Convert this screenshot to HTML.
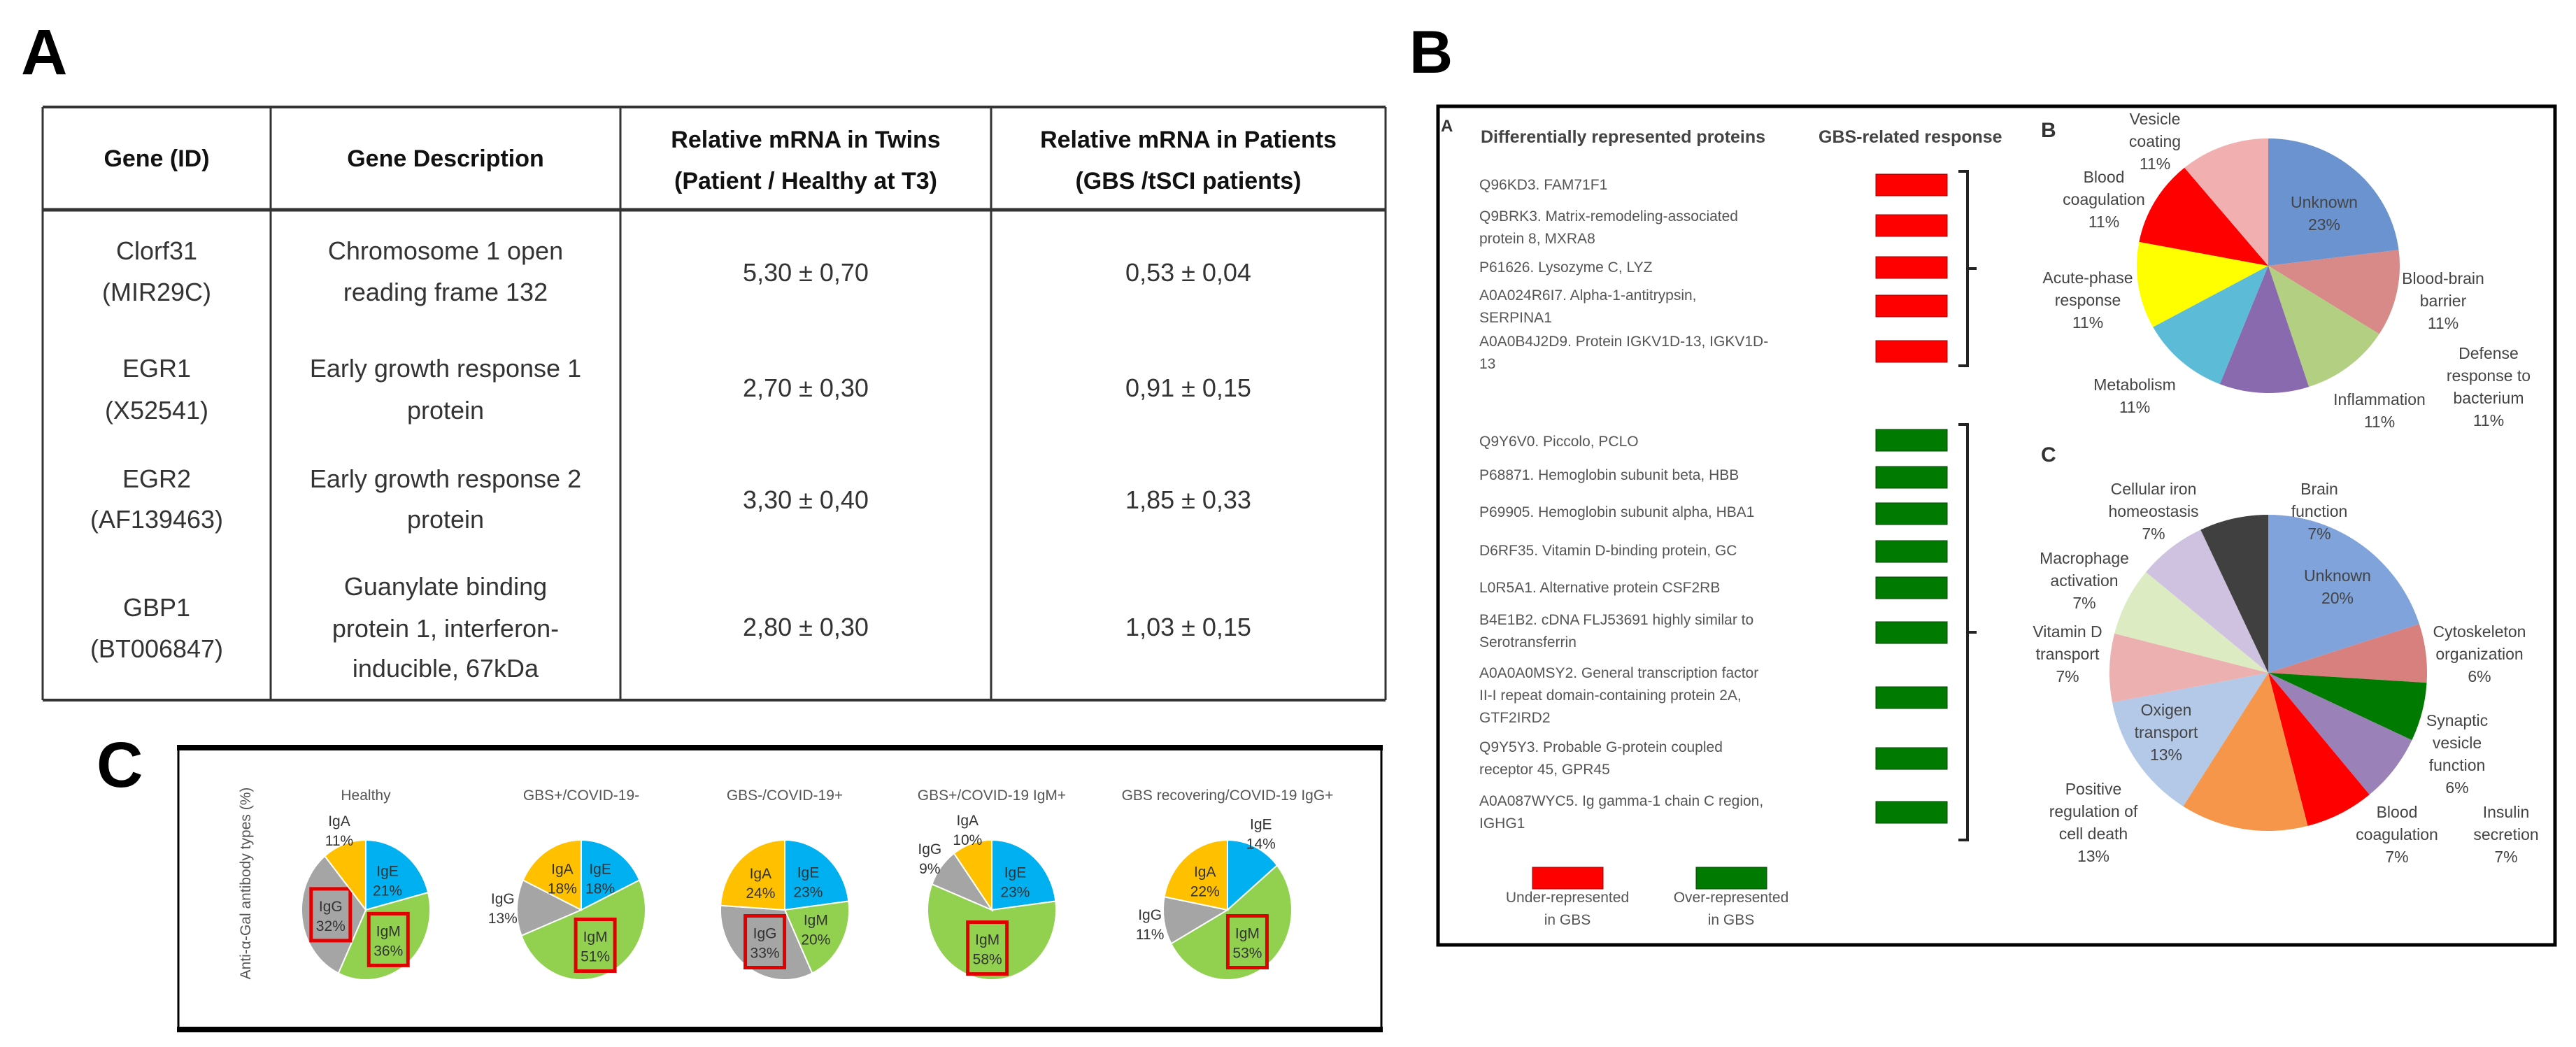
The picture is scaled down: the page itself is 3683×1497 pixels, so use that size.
<!DOCTYPE html>
<html><head><meta charset="utf-8"><style>
html,body{margin:0;padding:0;background:#fff;}
svg{display:block;font-family:"Liberation Sans",sans-serif;}
</style></head><body>
<svg id="fig" width="3683" height="1497" viewBox="0 0 3683 1497" xmlns="http://www.w3.org/2000/svg">
<rect width="3683" height="1497" fill="#fff"/>
<!-- Panel A -->
<text x="30" y="106" font-size="92" font-weight="bold" fill="#000">A</text>
<g id="table" stroke="#333" fill="none">
  <line x1="61" y1="153" x2="1981" y2="153" stroke-width="4"/>
  <line x1="61" y1="300" x2="1981" y2="300" stroke-width="5"/>
  <line x1="61" y1="1001" x2="1981" y2="1001" stroke-width="4"/>
  <line x1="61" y1="153" x2="61" y2="1001" stroke-width="3"/>
  <line x1="387" y1="153" x2="387" y2="1001" stroke-width="3"/>
  <line x1="887" y1="153" x2="887" y2="1001" stroke-width="3"/>
  <line x1="1417" y1="153" x2="1417" y2="1001" stroke-width="3"/>
  <line x1="1981" y1="153" x2="1981" y2="1001" stroke-width="3"/>
</g>
<g font-size="34" font-weight="bold" fill="#111" text-anchor="middle">
  <text x="224" y="238">Gene (ID)</text>
  <text x="637" y="238">Gene Description</text>
  <text x="1152" y="211">Relative mRNA in Twins</text>
  <text x="1152" y="270">(Patient / Healthy at T3)</text>
  <text x="1699" y="211">Relative mRNA in Patients</text>
  <text x="1699" y="270">(GBS /tSCI patients)</text>
</g>
<g font-size="36" fill="#333" text-anchor="middle">
  <text x="224" y="371">Clorf31</text><text x="224" y="430">(MIR29C)</text>
  <text x="637" y="371">Chromosome 1 open</text><text x="637" y="430">reading frame 132</text>
  <text x="1152" y="402">5,30 ± 0,70</text><text x="1699" y="402">0,53 ± 0,04</text>
  <text x="224" y="539">EGR1</text><text x="224" y="599">(X52541)</text>
  <text x="637" y="539">Early growth response 1</text><text x="637" y="599">protein</text>
  <text x="1152" y="567">2,70 ± 0,30</text><text x="1699" y="567">0,91 ± 0,15</text>
  <text x="224" y="697">EGR2</text><text x="224" y="755">(AF139463)</text>
  <text x="637" y="697">Early growth response 2</text><text x="637" y="755">protein</text>
  <text x="1152" y="727">3,30 ± 0,40</text><text x="1699" y="727">1,85 ± 0,33</text>
  <text x="224" y="881">GBP1</text><text x="224" y="940">(BT006847)</text>
  <text x="637" y="851">Guanylate binding</text><text x="637" y="911">protein 1, interferon-</text><text x="637" y="968">inducible, 67kDa</text>
  <text x="1152" y="909">2,80 ± 0,30</text><text x="1699" y="909">1,03 ± 0,15</text>
</g>

<!-- Panel C -->
<text x="138" y="1125" font-size="92" font-weight="bold" fill="#000">C</text>
<g stroke="#000" fill="none">
  <line x1="253" y1="1069" x2="1977" y2="1069" stroke-width="8"/>
  <line x1="253" y1="1472" x2="1977" y2="1472" stroke-width="8"/>
  <line x1="255" y1="1069" x2="255" y2="1472" stroke-width="3"/>
  <line x1="1975" y1="1069" x2="1975" y2="1472" stroke-width="3"/>
</g>
<text transform="translate(358,1263) rotate(-90)" font-size="21" fill="#555" text-anchor="middle">Anti-α-Gal antibody types (%)</text>
<g id="cpies"></g>

<!-- Panel B -->
<text x="2015" y="104" font-size="86" font-weight="bold" fill="#000">B</text>
<rect x="2056" y="152" width="1597" height="1199" fill="none" stroke="#000" stroke-width="5"/>
<text x="2060" y="188" font-size="24" font-weight="bold" fill="#333">A</text>
<text x="2117" y="204" font-size="25" font-weight="bold" fill="#444">Differentially represented proteins</text>
<text x="2600" y="204" font-size="25" font-weight="bold" fill="#444">GBS-related response</text>
<g id="plist" font-size="21" fill="#555"></g>
<g font-size="21" fill="#555" text-anchor="middle">
  <rect x="2191" y="1240" width="101" height="31" fill="#FF0000" stroke="#900" stroke-width="1"/>
  <text x="2241" y="1290">Under-represented</text><text x="2241" y="1322">in GBS</text>
  <rect x="2425" y="1240" width="101" height="31" fill="#007A00" stroke="#040" stroke-width="1"/>
  <text x="2475" y="1290">Over-represented</text><text x="2475" y="1322">in GBS</text>
</g>
<text x="2918" y="196" font-size="30" font-weight="bold" fill="#333">B</text>
<text x="2918" y="660" font-size="30" font-weight="bold" fill="#333">C</text>
<g id="bpie"></g>
<g id="bcpie"></g>
</svg>
<script>
const NS="http://www.w3.org/2000/svg";
function mk(tag,attrs,parent){const e=document.createElementNS(NS,tag);for(const k in attrs)e.setAttribute(k,attrs[k]);parent.appendChild(e);return e;}

// ---- Panel C data ----
const cGroups=["Healthy","GBS+/COVID-19-","GBS-/COVID-19+","GBS+/COVID-19 IgM+","GBS recovering/COVID-19 IgG+"];
const cTypes=["IgE","IgM","IgG","IgA"];
const cIgE=[21,18,23,23,14];
const cIgM=[36,51,20,58,53];
const cIgG=[32,13,33,9,11];
const cIgA=[11,18,24,10,22];
const cColors=["#00B0F0","#92D050","#A5A5A5","#FFC000"];
const cCx=[523,831,1122,1418,1755];
const cBoxed=[[1,2],[1],[2],[1],[1]];

function slicePath(cx,cy,rx,ry,a0,a1){
  const p=a=>[cx+rx*Math.sin(a),cy-ry*Math.cos(a)];
  const s=p(a0),e=p(a1),large=(a1-a0)>Math.PI?1:0;
  return `M${cx},${cy}L${s[0]},${s[1]}A${rx},${ry} 0 ${large} 1 ${e[0]},${e[1]}Z`;
}
const cg=document.getElementById('cpies');
cGroups.forEach((g,i)=>{
  const vals=[cIgE[i],cIgM[i],cIgG[i],cIgA[i]];
  const tot=vals.reduce((a,b)=>a+b,0);
  const cx=cCx[i],cy=1301,rx=92,ry=100;
  const t=mk('text',{x:cx,y:1144,'font-size':21,fill:'#555','text-anchor':'middle'},cg);
  t.textContent=g;
  
  
  let a=0;
  vals.forEach((v,j)=>{
    const a1=a+v/tot*2*Math.PI;
    const s=mk('path',{d:slicePath(cx,cy,rx,ry,a,a1),fill:cColors[j],stroke:'#fff','stroke-width':2},cg);
    
    
    const m=(a+a1)/2;
    const small=v<15;
    const rr=small?1.22:0.55;
    const lx=cx+rx*rr*Math.sin(m), ly=cy-ry*rr*Math.cos(m);
    const boxed=cBoxed[i].includes(j);
    if(boxed){
      const b=mk('rect',{x:lx-28,y:ly-37,width:56,height:74,fill:'none',stroke:'#E00000','stroke-width':5},cg);
      
      
    }
    const l1=mk('text',{x:lx,y:ly-5,'font-size':21,fill:'#333','text-anchor':'middle'},cg);
    l1.textContent=cTypes[j];
    
    
    const l2=mk('text',{x:lx,y:ly+23,'font-size':21,fill:'#333','text-anchor':'middle'},cg);
    l2.textContent=v+'%';
    
    
    a=a1;
  });
});

// ---- Panel B protein list ----
const redProteins=[["Q96KD3. FAM71F1"],["Q9BRK3. Matrix-remodeling-associated","protein 8, MXRA8"],["P61626.  Lysozyme C, LYZ"],["A0A024R6I7.  Alpha-1-antitrypsin,","SERPINA1"],["A0A0B4J2D9.  Protein IGKV1D-13, IGKV1D-","13"]];
const redTextY=[264,309,382,422,488];
const redBarY=[264,322,382,437,502];
const greenProteins=[["Q9Y6V0. Piccolo, PCLO"],["P68871.  Hemoglobin subunit beta, HBB"],["P69905.  Hemoglobin subunit alpha, HBA1"],["D6RF35.  Vitamin D-binding protein, GC"],["L0R5A1.  Alternative protein CSF2RB"],["B4E1B2.  cDNA FLJ53691 highly similar to","Serotransferrin"],["A0A0A0MSY2. General transcription factor","II-I repeat domain-containing protein 2A,","GTF2IRD2"],["Q9Y5Y3.  Probable G-protein coupled","receptor 45, GPR45"],["A0A087WYC5.  Ig gamma-1 chain C region,","IGHG1"]];
const greenTextY=[631,679,732,787,840,886,962,1068,1145];
const greenBarY=[629,682,734,788,840,904,997,1084,1161];
const pl=document.getElementById('plist');
function drawList(list,ty,by,color,edge){
  list.forEach((lines,i)=>{
    lines.forEach((ln,k)=>{
      const t=mk('text',{x:2115,y:ty[i]+7+k*32},pl);
      t.textContent=ln;
      
      
    });
    const r=mk('rect',{x:2682,y:by[i]-15,width:102,height:31,fill:color,stroke:edge,'stroke-width':1},pl);
    
    
  });
}
drawList(redProteins,redTextY,redBarY,'#FF0000','#900');
drawList(greenProteins,greenTextY,greenBarY,'#007A00','#040');
function bracket(y0,y1){
  const m=(y0+y1)/2;
  const p=mk('path',{d:`M2800,${y0}H2813V${y1}H2800M2813,${m}H2826`,fill:'none',stroke:'#222','stroke-width':4},pl);
  
  
}
bracket(245,523);bracket(607,1201);

// ---- Panel B pies ----
const bLabels=[["Unknown","23%"],["Blood-brain","barrier","11%"],["Defense","response to","bacterium","11%"],["Inflammation","11%"],["Metabolism","11%"],["Acute-phase","response","11%"],["Blood","coagulation","11%"],["Vesicle","coating","11%"]];
const bValues=[23,11,11,11,11,11,11,11];
const bColors=["#6A93CF","#D88A88","#B3CF82","#8A6AAE","#5CBCD8","#FFFF00","#FF0000","#F2AFAF"];
const bLabelPos=[[3323,289],[3493,398],[3558,505],[3402,571],[3052,550],[2985,397],[3008,253],[3081,170]];

const ccLabels=[["Unknown","20%"],["Cytoskeleton","organization","6%"],["Synaptic","vesicle","function","6%"],["Insulin","secretion","7%"],["Blood","coagulation","7%"],["Positive","regulation of","cell death","13%"],["Oxigen","transport","13%"],["Vitamin D","transport","7%"],["Macrophage","activation","7%"],["Cellular iron","homeostasis","7%"],["Brain","function","7%"]];
const ccValues=[20,6,6,7,7,13,13,7,7,7,7];
const ccColors=["#7FA3DA","#D8807E","#007A00","#9A82B8","#FF0000","#F5964A","#B4C9E8","#EDB0B0","#DDEBC3","#CFC2E0","#404040"];
const ccLabelPos=[[3342,823],[3545,903],[3513,1030],[3583,1161],[3427,1161],[2993,1128],[3097,1015],[2956,903],[2980,798],[3079,699],[3316,699]];

function bigPie(gid,vals,cols,labels,pos,cx,cy,rx,ry,name){
  const g=document.getElementById(gid);
  const tot=vals.reduce((a,b)=>a+b,0);
  let a=0;
  vals.forEach((v,j)=>{
    const a1=a+v/tot*2*Math.PI;
    const s=mk('path',{d:slicePath(cx,cy,rx,ry,a,a1),fill:cols[j],stroke:'none'},g);
    
    
    a=a1;
  });
  labels.forEach((lines,j)=>{
    lines.forEach((ln,k)=>{
      const t=mk('text',{x:pos[j][0],y:pos[j][1]+8+k*32,'font-size':23,fill:'#444','text-anchor':'middle'},g);
      t.textContent=ln;
      
      
    });
  });
}
bigPie('bpie',bValues,bColors,bLabels,bLabelPos,3243,380,188,182,'function-pie-b');
bigPie('bcpie',ccValues,ccColors,ccLabels,ccLabelPos,3243,962,227,226,'function-pie-c');
</script>
</body></html>
